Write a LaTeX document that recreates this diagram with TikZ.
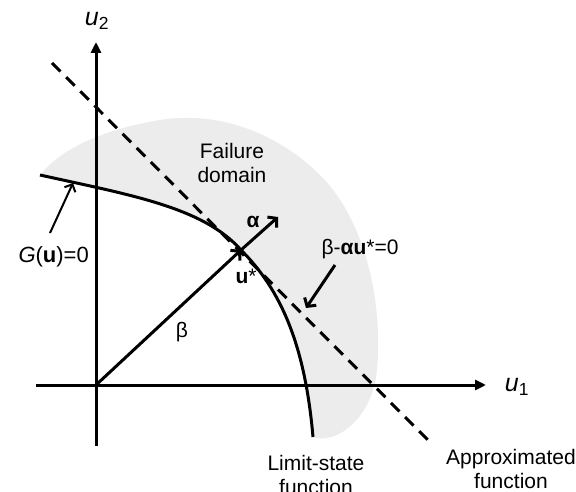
\documentclass[tikz,border=0pt]{standalone}
\usepackage{fontspec}
\setmainfont{Liberation Sans}
\usetikzlibrary{arrows.meta}
\definecolor{faildom}{RGB}{236,236,236}
\begin{document}
\begin{tikzpicture}[x=1pt,y=-1pt,
  axis/.style={line width=3pt,-{Triangle[length=11pt,width=10pt]}},
  vec/.style={line width=3pt,-{Straight Barb[length=6pt,width=14pt]}},
  thinvec/.style={line width=2pt,-{Straight Barb[length=6pt,width=12pt]}},
  curveline/.style={line width=3pt},
  approx/.style={line width=3pt,dash pattern=on 12pt off 8pt},
  lbl/.style={font=\fontsize{21}{23.5}\selectfont,inner sep=0pt,align=center},
  axlbl/.style={font=\fontsize{25}{28}\selectfont,inner sep=0pt}]
\useasboundingbox (0,0) rectangle (576,492);
% points
\coordinate (O) at (96,385);
\coordinate (xs) at (36,385);
\coordinate (xe) at (486,385);
\coordinate (ys) at (96,446);
\coordinate (ye) at (96,42);
\coordinate (us) at (241,250);
\coordinate (ga) at (40,175);
\coordinate (gb) at (313,437);
\coordinate (aend) at (278,217);
\coordinate (ds) at (52,63);
\coordinate (de) at (433,445);
\coordinate (gfrom) at (50,233);
\coordinate (gto) at (73,183);
\coordinate (bfrom) at (335,265);
\coordinate (bto) at (306,308);
% failure domain
\fill[faildom] (ga) .. controls (130,195) and (203,207) .. (us)
  .. controls (281,290) and (305,345) .. (gb)
  .. controls (335,445) and (372,420) .. (377,370)
  .. controls (383,300) and (365,220) .. (320,175)
  .. controls (280,135) and (220,110) .. (160,120)
  .. controls (100,130) and (60,150) .. (ga) -- cycle;
% axes
\draw[axis] (xs) -- (xe);
\draw[axis] (ys) -- (ye);
% approximated function
\draw[approx] (ds) -- (de);
% limit-state function
\draw[curveline] (ga) .. controls (130,195) and (203,207) .. (us)
  .. controls (281,290) and (305,345) .. (gb);
% vectors
\draw[vec] (O) -- (us);
\draw[vec] (us) -- (aend);
\draw[thinvec] (gfrom) -- (gto);
\draw[vec] (bfrom) -- (bto);
% labels
\node[axlbl] (lu2) at (97,21) {\textit{u}\textsubscript{2}};
\node[axlbl] (lu1) at (517,387) {\textit{u}\textsubscript{1}};
\node[lbl] (lfd) at (232,163) {Failure\\domain};
\node[lbl,anchor=east,font=\fontsize{22}{25}\selectfont] (lg) at (89,257) {\textit{G}(\textbf{u})=0};
\node[lbl] (lal) at (253,222) {\textbf{α}};
\node[lbl] (lus) at (246,276) {\textbf{u}*};
\node[lbl] (lbe) at (182,332) {β};
\node[lbl] (lpl) at (360,249) {β-\textbf{αu}*=0};
\node[lbl] (lls) at (316,475) {Limit-state\\function};
\node[lbl] (lap) at (511,469) {Approximated\\function};
\end{tikzpicture}
\end{document}
